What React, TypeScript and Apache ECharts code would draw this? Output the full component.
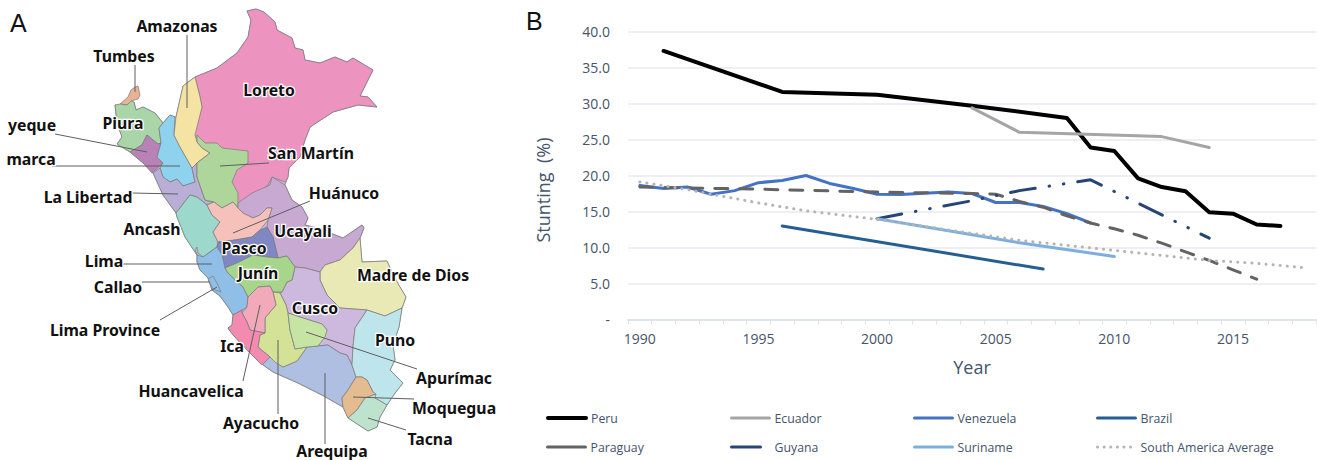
import React, { useEffect, useRef } from "react";
import * as echarts from "echarts";

const years = ["1990","1991","1992","1993","1994","1995","1996","1997","1998","1999","2000","2001","2002","2003","2004","2005","2006","2007","2008","2009","2010","2011","2012","2013","2014","2015","2016","2017","2018"];
const _ = null;
const peru = [_,37.3,_,_,_,_,31.6,_,_,_,31.2,_,_,_,29.7,_,_,_,28.0,23.9,23.4,19.6,18.4,17.8,14.9,14.7,13.2,13.0,_];
const ecuador = [_,_,_,_,_,_,_,_,_,_,_,_,_,_,29.4,_,26.0,_,_,_,_,_,25.4,_,23.9,_,_,_,_];
const venezuela = [18.6,18.2,18.4,17.4,17.9,19.0,19.3,20.0,18.9,18.2,17.4,17.35,17.55,17.7,17.5,16.25,16.25,15.7,14.7,13.4,_,_,_,_,_,_,_,_,_];
const brazil = [_,_,_,_,_,_,13.0,_,_,_,_,_,_,_,_,_,_,7.0,_,_,_,_,_,_,_,_,_,_,_];
const paraguay = [18.4,_,_,_,_,18.1,_,_,_,_,17.7,_,_,_,17.5,17.4,16.4,15.6,14.4,13.4,12.6,11.7,10.6,9.4,8.2,6.9,5.6,_,_];
const guyana = [_,_,_,_,_,_,_,_,_,_,14.0,_,_,_,16.5,_,17.9,_,_,19.4,_,_,_,_,11.3,_,_,_,_];
const suriname = [_,_,_,_,_,_,_,_,_,_,14.0,_,_,_,_,_,10.65,_,_,_,8.75,_,_,_,_,_,_,_,_];
const southAmerica = [19.1,_,18.05,17.4,_,16.2,_,15.1,_,_,13.9,_,_,_,_,_,11.0,_,_,_,9.6,_,8.9,_,8.2,_,7.8,_,7.2];

const yTicks = { min: 0, max: 40, interval: 5 };

const regionShapes: Record<string, number[][]> = {
  Peru: [[195,77],[217,68],[237,53],[248,37],[251,20],[247,11],[256,9],[264,12],[275,22],[277,30],[292,38],[295,48],[303,50],[305,60],[320,63],[335,57],[347,62],[353,58],[373,70],[360,96],[368,97],[377,107],[358,105],[333,112],[310,127],[305,140],[300,157],[289,168],[288,177],[285,185],[292,200],[302,207],[308,218],[305,225],[317,228],[343,238],[362,225],[364,228],[360,238],[362,262],[387,261],[392,272],[397,282],[406,297],[402,308],[399,327],[393,345],[395,360],[390,370],[403,383],[395,393],[387,405],[380,417],[377,427],[368,431],[348,418],[343,407],[322,395],[298,383],[273,372],[259,362],[247,350],[233,335],[228,328],[232,325],[233,315],[228,307],[220,296],[212,290],[208,278],[200,270],[197,262],[197,255],[185,237],[177,217],[176,213],[163,195],[153,173],[143,163],[130,152],[117,144],[122,137],[117,123],[115,105],[127,105],[134,102],[136,110],[143,107],[155,113],[163,123],[170,115],[175,117],[176,117],[183,86]],
  Loreto: [[195,77],[217,68],[237,53],[248,37],[251,20],[247,11],[256,9],[264,12],[275,22],[277,30],[292,38],[295,48],[303,50],[305,60],[320,63],[335,57],[347,62],[353,58],[373,70],[360,96],[368,97],[377,107],[358,105],[333,112],[310,127],[305,140],[300,157],[289,168],[288,177],[285,182],[272,177],[268,185],[253,197],[240,205],[230,205],[225,150],[205,145],[194,135],[202,107],[200,97]],
  Tumbes: [[120,104],[128,97],[131,90],[135,87],[138,86],[140,95],[138,99],[131,101],[127,105]],
  Piura: [[115,105],[120,104],[127,105],[131,101],[134,102],[136,110],[143,107],[155,113],[163,123],[159,128],[161,143],[158,144],[147,135],[142,145],[130,152],[117,144],[122,137],[117,123]],
  Lambayeque: [[147,135],[158,144],[161,143],[157,157],[163,163],[152,173],[143,163],[130,152],[142,145]],
  Cajamarca: [[170,115],[175,117],[174,135],[180,147],[192,168],[195,182],[183,186],[177,179],[170,182],[163,177],[160,168],[163,163],[157,157],[161,143],[159,128],[163,123]],
  Amazonas: [[195,77],[200,97],[202,107],[195,135],[197,142],[202,148],[210,153],[198,162],[192,168],[180,147],[174,135],[176,117],[183,86]],
  "La Libertad": [[153,173],[160,168],[163,177],[170,182],[177,179],[183,186],[195,182],[192,168],[197,163],[197,177],[205,200],[214,202],[207,205],[197,197],[190,195],[176,213],[163,195]],
  "San Martín": [[197,135],[205,143],[217,143],[222,148],[248,151],[248,163],[237,170],[232,182],[238,193],[238,208],[233,202],[222,208],[214,202],[205,200],[197,177],[197,163],[210,153],[202,148],[197,142]],
  Ancash: [[190,195],[197,197],[207,205],[212,215],[220,222],[213,232],[218,242],[217,247],[203,257],[198,253],[197,247],[195,250],[197,255],[185,237],[177,217],[176,213]],
  Ucayali: [[238,208],[238,203],[252,193],[270,185],[272,177],[285,185],[292,200],[302,207],[308,218],[305,225],[317,228],[343,238],[362,225],[364,228],[360,238],[353,248],[340,260],[325,265],[320,272],[305,268],[295,267],[287,256],[278,258],[273,237],[267,227],[268,220],[272,208],[267,208],[260,215],[253,218],[243,213]],
  "Huánuco": [[207,205],[214,202],[222,208],[233,202],[238,208],[243,213],[253,218],[260,215],[267,208],[272,208],[268,220],[260,230],[252,237],[235,240],[218,242],[213,232],[220,222],[212,215]],
  Pasco: [[218,242],[235,240],[252,237],[260,230],[267,227],[273,237],[278,258],[267,257],[253,255],[237,263],[225,268],[222,255],[217,247]],
  "Madre de Dios": [[360,238],[362,262],[387,261],[392,272],[397,282],[406,297],[402,308],[385,316],[367,310],[340,308],[327,295],[320,280],[320,272],[325,265],[340,260],[353,248]],
  Cusco: [[295,267],[305,268],[320,272],[320,280],[327,295],[340,308],[367,310],[355,328],[353,347],[352,365],[347,355],[340,353],[328,345],[318,346],[327,330],[322,324],[303,318],[288,313],[286,305],[280,293],[282,292],[287,282],[292,280]],
  Lima: [[197,262],[197,255],[203,257],[217,247],[222,255],[225,268],[228,273],[243,287],[248,297],[247,307],[242,310],[233,315],[228,307],[220,296],[212,290],[208,278],[200,270]],
  "Lima Province": [[208,279],[213,276],[217,283],[221,292],[213,289]],
  Junín: [[225,268],[237,263],[253,255],[267,257],[278,258],[287,256],[295,267],[292,280],[287,282],[282,292],[273,292],[270,286],[258,287],[248,297],[243,287],[228,273]],
  Arequipa: [[259,362],[270,357],[283,367],[297,361],[307,347],[318,346],[328,345],[340,353],[347,355],[352,365],[356,377],[348,390],[342,398],[343,407],[322,395],[298,383],[273,372]],
  Ayacucho: [[273,292],[280,293],[286,305],[288,313],[290,330],[295,349],[307,347],[297,361],[283,367],[275,362],[270,357],[258,347],[260,335],[265,333],[265,318],[276,305]],
  Apurímac: [[288,313],[303,318],[322,324],[327,330],[325,337],[318,346],[307,347],[295,349],[290,330]],
  Huancavelica: [[258,287],[270,286],[273,292],[276,305],[265,318],[265,333],[250,330],[247,322],[242,313],[247,307],[248,297]],
  Ica: [[233,315],[242,310],[242,313],[247,322],[250,330],[265,333],[260,335],[258,347],[270,357],[262,365],[247,350],[233,335],[228,328],[232,325]],
  Puno: [[367,310],[385,316],[402,308],[399,327],[393,345],[395,360],[390,370],[403,383],[395,393],[387,405],[375,398],[373,392],[367,380],[362,377],[356,377],[352,365],[353,347],[355,328]],
  Moquegua: [[356,377],[362,377],[367,380],[373,392],[376,394],[365,398],[357,410],[348,418],[343,407],[342,398],[348,390]],
  Tacna: [[365,398],[376,394],[375,398],[387,405],[380,417],[377,427],[368,431],[348,418],[357,410]],
};

const regionColors: Record<string, string> = {
  Peru: "#c7b9d8",
  Loreto: "#ec94bf", Tumbes: "#e8b294", Piura: "#a9d5a8", Lambayeque: "#b881b8", Cajamarca: "#8fd2ee",
  Amazonas: "#f5e3a3", "San Martín": "#aed59a", "La Libertad": "#b8aed6", Ancash: "#9cd8cb", Ucayali: "#c7a9d1",
  "Huánuco": "#f6c1ba", Pasco: "#8088c4", "Madre de Dios": "#e8e9b4", Cusco: "#cdb9de", Lima: "#8fbfe6",
  "Lima Province": "#8fbfe6", Junín: "#a8d58c", Arequipa: "#aebfe2", Ayacucho: "#d3e296", Apurímac: "#c6e4a4",
  Huancavelica: "#f2a9ba", Ica: "#f38bb1", Puno: "#bee5ec", Moquegua: "#e5bc8f", Tacna: "#bde3cf",
};

const mapLabels: [string, number, number][] = [
  ["Amazonas",177,26],["Tumbes",124,56],["yeque",32,125],["marca",31,159],["Piura",123,123],["Loreto",269,90],
  ["San Martín",311,153],["La Libertad",88,197],["Huánuco",344,193],["Ancash",152,229],["Pasco",244,248],
  ["Ucayali",303,231],["Lima",104,261],["Junín",258,273],["Callao",118,287],["Madre de Dios",413,275],
  ["Lima Province",105,330],["Cusco",315,308],["Puno",395,340],["Ica",232,346],["Apurímac",454,378],
  ["Huancavelica",191,391],["Moquegua",454,408],["Ayacucho",261,423],["Tacna",430,439],["Arequipa",332,451],
];

const leaders: number[][] = [
  [187,35,187,108],[135,65,135,92],[55,134,147,152],[52,166,180,166],[132,193,178,194],[269,163,220,166],
  [310,201,233,233],[122,264,212,264],[142,282,210,282],[160,320,217,287],[243,381,260,305],[278,414,278,340],
  [325,444,325,373],[417,369,306,332],[414,399,353,397],[406,430,368,418],
];

const TEXT = "#44546a";
const FONT = "'Open Sans', sans-serif";

const seriesDefs = [
  { name: "Peru", data: peru, color: "#000000", width: 4, dash: "solid" as any },
  { name: "Ecuador", data: ecuador, color: "#a5a5a5", width: 3, dash: "solid" as any },
  { name: "Venezuela", data: venezuela, color: "#4472c4", width: 3, dash: "solid" as any },
  { name: "Brazil", data: brazil, color: "#255e91", width: 3, dash: "solid" as any },
  { name: "Paraguay", data: paraguay, color: "#636363", width: 3, dash: [13, 12] as any },
  { name: "Guyana", data: guyana, color: "#264478", width: 3, dash: [25, 14, 0.5, 14, 0.5, 14] as any },
  { name: "Suriname", data: suriname, color: "#7cafdd", width: 3, dash: "solid" as any },
  { name: "South America Average", data: southAmerica, color: "#b4b4b4", width: 3, dash: [0.1, 7] as any },
];

const legendSpots: [number, number, any][] = [
  [546, 412, "solid"], [730, 412, "solid"], [913, 412, "solid"], [1096, 412, "solid"],
  [546, 441, "solid"], [730, 441, [29, 20]], [913, 441, "solid"], [1096, 441, [0.1, 6.5]],
];

export default function App() {
  const ref = useRef<HTMLDivElement>(null);
  useEffect(() => {
    if (!ref.current) return;
    const chart = echarts.init(ref.current, undefined, { renderer: "svg" });
    const features = Object.keys(regionShapes).map((name) => ({
      type: "Feature",
      properties: { name },
      geometry: { type: "Polygon", coordinates: [[...regionShapes[name], regionShapes[name][0]]] },
    }));
    echarts.registerMap("peru", { type: "FeatureCollection", features } as any);

    const graphics: any[] = [
      ...leaders.map((l) => ({
        type: "line", silent: true, z: 50,
        shape: { x1: l[0], y1: l[1], x2: l[2], y2: l[3] },
        style: { stroke: "#5f5f5f", lineWidth: 1 },
      })),
      ...mapLabels.map(([text, x, y]) => ({
        type: "text", silent: true, z: 60, x, y,
        style: {
          text, x: 0, y: 0, align: "center", verticalAlign: "middle",
          font: "bold 15.8px 'Noto Sans', sans-serif", fill: "#111111", stroke: "#ffffff", lineWidth: 2.5,
        },
      })),
      { type: "text", z: 60, x: 10, y: 10, style: { text: "A", font: "25px 'Liberation Sans', sans-serif", fill: "#111" } },
      { type: "text", z: 60, x: 526, y: 8, style: { text: "B", font: "25px 'Liberation Sans', sans-serif", fill: "#111" } },
      {
        type: "text", z: 60, x: 542.5, y: 190, rotation: Math.PI / 2,
        style: { text: "Stunting  (%)", align: "center", verticalAlign: "middle", font: `18px ${FONT}`, fill: TEXT },
      },
    ];

    chart.setOption({
      animation: false,
      backgroundColor: "#ffffff",
      geo: {
        map: "peru", silent: true, roam: false,
        projection: { project: (p: number[]) => p, unproject: (p: number[]) => p },
        boundingCoords: [[0, 0], [520, 460]],
        left: 0, top: 0, width: 520, height: 460,
        itemStyle: { borderColor: "#7a7a7a", borderWidth: 0.7 },
        regions: Object.keys(regionColors).map((name) => ({ name, itemStyle: { areaColor: regionColors[name] } })),
        label: { show: false },
      },
      grid: { left: 628, top: 31.5, width: 688, height: 288, containLabel: false },
      xAxis: {
        type: "category", data: years, boundaryGap: true,
        name: "Year", nameLocation: "middle", nameGap: 38,
        nameTextStyle: { color: TEXT, fontSize: 18, fontFamily: FONT },
        axisLine: { lineStyle: { color: "#dfe3ea", width: 2 } },
        axisTick: { show: true, interval: 0, length: 5, lineStyle: { color: "#dfe3ea", width: 1 } },
        axisLabel: { interval: 4, color: TEXT, fontSize: 14, fontFamily: FONT, margin: 12 },
      },
      yAxis: {
        type: "value", ...yTicks,
        axisLine: { show: false }, axisTick: { show: false },
        splitLine: { lineStyle: { color: "#e7eaf0", width: 1.5 } },
        axisLabel: {
          color: TEXT, fontSize: 14, fontFamily: FONT, margin: 18,
          formatter: (v: number) => (v === 0 ? "-" : v.toFixed(1)),
        },
      },
      legend: seriesDefs.map((s, i) => ({
        data: [s.name], left: legendSpots[i][0], top: legendSpots[i][1], padding: 0,
        itemWidth: 38, itemHeight: 14, selectedMode: false,
        itemStyle: { opacity: 0 },
        lineStyle: { type: legendSpots[i][2], width: i === 0 ? 4 : 3, cap: "round" },
        textStyle: { color: TEXT, fontSize: 12.3, fontFamily: FONT },
      })),
      series: seriesDefs.map((s) => ({
        name: s.name, type: "line", data: s.data, connectNulls: true, symbol: "none", silent: true,
        itemStyle: { color: s.color },
        lineStyle: { color: s.color, width: s.width, type: s.dash, cap: "round", join: "round" },
      })),
      graphic: graphics,
    });
    return () => chart.dispose();
  }, []);
  return <div ref={ref} style={{ position: "absolute", left: 0, top: 0, width: 1317, height: 460 }} />;
}
